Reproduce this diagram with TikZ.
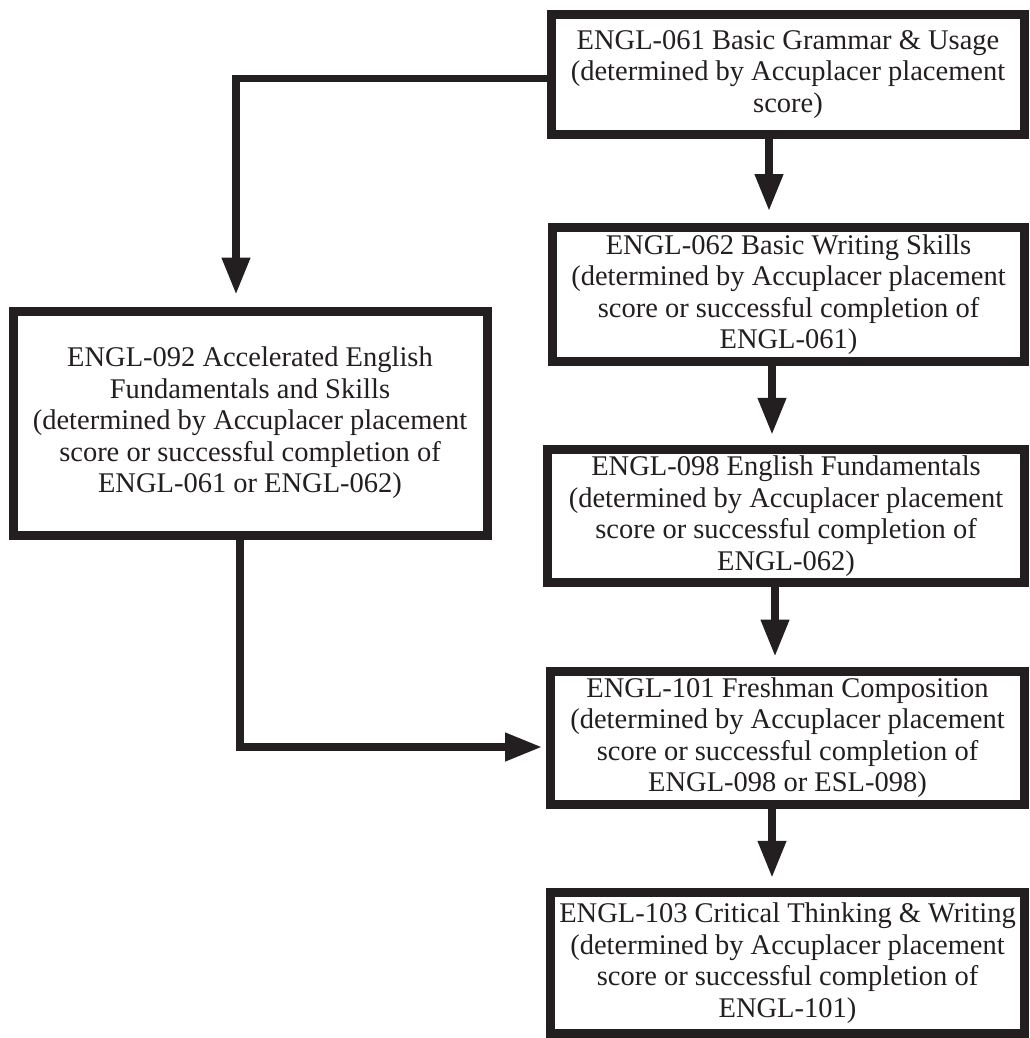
\documentclass[tikz,border=0pt]{standalone}
\usepackage{fontspec}
\setmainfont{Liberation Serif}
\usetikzlibrary{arrows.meta}
\definecolor{ink}{HTML}{231F20}
\begin{document}
\begin{tikzpicture}[x=1pt,y=-1pt,
  box/.style={draw=ink, line width=9pt, inner sep=0pt, align=center,
    font=\fontsize{28.5}{31.5}\selectfont, text=ink},
  conn/.style={draw=ink, line width=7.5pt, line join=miter,
    -{Triangle[width=27pt,length=37pt]}},
]
\useasboundingbox (0,0) rectangle (1029,1038);
\fill[white] (0,0) rectangle (1029,1038);

\node[box, minimum width=473pt, minimum height=120pt] (b1) at (788,74.5)
  {ENGL-061 Basic Grammar \& Usage\\(determined by Accuplacer placement\\score)};
\node[box, minimum width=472pt, minimum height=134pt] (b2) at (788.5,294.5)
  {ENGL-062 Basic Writing Skills\\(determined by Accuplacer placement\\score or successful completion of\\ENGL-061)};
\node[box, minimum width=477pt, minimum height=133.5pt] (b3) at (786,516)
  {ENGL-098 English Fundamentals\\(determined by Accuplacer placement\\score or successful completion of\\ENGL-062)};
\node[box, minimum width=474pt, minimum height=133pt] (b4) at (787.5,737.5)
  {ENGL-101 Freshman Composition\\(determined by Accuplacer placement\\score or successful completion of\\ENGL-098 or ESL-098)};
\node[box, minimum width=474pt, minimum height=141.5pt] (b5) at (787.5,963)
  {ENGL-103 Critical Thinking \& Writing\\(determined by Accuplacer placement\\score or successful completion of\\ENGL-101)};
\node[box, minimum width=474pt, minimum height=224pt] (lb) at (250,423)
  {ENGL-092 Accelerated English\\Fundamentals and Skills\\(determined by Accuplacer placement\\score or successful completion of\\ENGL-061 or ENGL-062)};

\coordinate (a1) at (769,0);
\coordinate (a2) at (772,0);
\coordinate (a3) at (775,0);
\coordinate (a4) at (772,0);
\coordinate (t1) at (236,78.5);
\coordinate (t2) at (240,747);

\draw[conn, shorten >=12pt] (b1.south -| a1) -- (b2.north -| a1);
\draw[conn, shorten >=10pt] (b2.south -| a2) -- (b3.north -| a2);
\draw[conn, shorten >=10pt] (b3.south -| a3) -- (b4.north -| a3);
\draw[conn, shorten >=10pt] (b4.south -| a4) -- (b5.north -| a4);
\draw[conn, shorten >=12pt] (b1.west |- t1) -| (lb.north -| t1);
\draw[conn, shorten >=4pt] (lb.south -| t2) |- (b4.west |- t2);
\end{tikzpicture}
\end{document}
